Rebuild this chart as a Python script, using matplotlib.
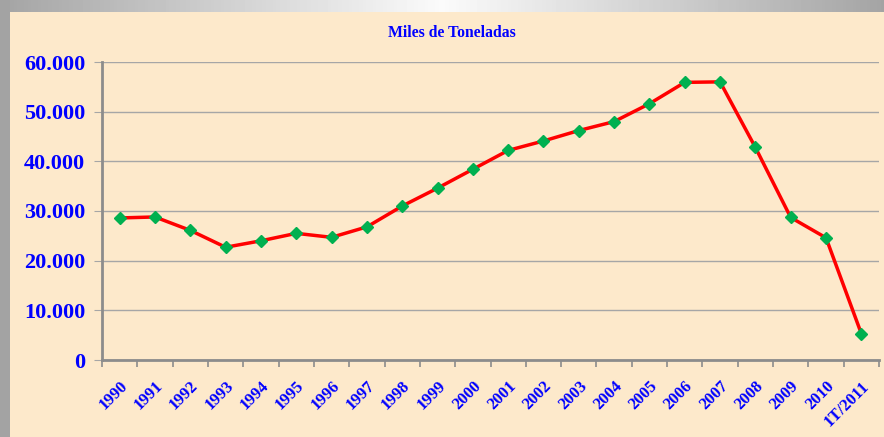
import numpy as np
import matplotlib.pyplot as plt
from matplotlib.patches import Rectangle

years = ['1990', '1991', '1992', '1993', '1994', '1995', '1996', '1997', '1998', '1999',
         '2000', '2001', '2002', '2003', '2004', '2005', '2006', '2007', '2008', '2009',
         '2010', '1T/2011']
toneladas = [28600, 28800, 26100, 22700, 24000, 25500, 24700, 26800, 31000, 34600,
             38400, 42200, 44100, 46200, 48000, 51600, 55900, 56000, 42800, 28700,
             24600, 5300]
yticks = [0, 10000, 20000, 30000, 40000, 50000, 60000]

W, H = 884, 437
fig = plt.figure(figsize=(W / 100, H / 100), dpi=100)
fig.patch.set_facecolor('#FDE9CB')

# grey frame: left strip and top gradient strip
bg = fig.add_axes([0, 0, 1, 1], zorder=-1)
bg.axis('off')
bg.add_patch(Rectangle((0, 0), 10, H, color='#A3A3A3', lw=0))
grad = 1 - np.abs(np.linspace(-1, 1, 256))
bg.imshow(grad[None, :], cmap='gray', vmin=-1.9, vmax=1.05, extent=(0, W, 12, 0),
          aspect='auto')
bg.set_xlim(0, W)
bg.set_ylim(H, 0)

ax = fig.add_axes([102 / W, 1 - 360 / H, (879 - 102) / W, (360 - 62) / H])
ax.set_facecolor('#FDE9CB')
x = np.arange(len(years))
ax.plot(x, toneladas, color='#FF0000', lw=2.5, marker='D', ms=6.5,
        mfc='#00B050', mec='#00B050', zorder=3)

ax.set_xlim(-0.5, len(years) - 0.5)
ax.set_ylim(0, 60000)
ax.set_yticks(yticks)
ax.set_yticklabels([f'{v:,}'.replace(',', '.') for v in yticks])
ax.yaxis.grid(True, color='#A6A6A6', lw=1)
ax.set_axisbelow(True)

ax.set_xticks(np.arange(len(years) + 1) - 0.5)
ax.set_xticklabels([])
ax.set_xticks(x, minor=True)
ax.set_xticklabels(years, minor=True, rotation=45, ha='right', va='top',
                   rotation_mode='anchor', fontfamily='Liberation Serif',
                   fontweight='bold', fontsize=12, color='#0000FF')
ax.tick_params(axis='x', which='minor', length=0, pad=13)
ax.tick_params(axis='x', which='major', length=5, color='#8C8C8C', width=1.2)
ax.tick_params(axis='y', length=6, color='#A6A6A6', pad=6)
for lbl in ax.get_yticklabels():
    lbl.set_fontfamily('Liberation Serif')
    lbl.set_fontweight('bold')
    lbl.set_fontsize(16)
    lbl.set_color('#0000FF')

for s in ['top', 'right']:
    ax.spines[s].set_visible(False)
ax.spines['left'].set_color('#8C8C8C')
ax.spines['left'].set_linewidth(2)
ax.spines['bottom'].set_color('#8C8C8C')
ax.spines['bottom'].set_linewidth(2)

fig.text(452 / W, 1 - 33 / H, 'Miles de Toneladas', ha='center', va='center',
         fontfamily='Liberation Serif', fontweight='bold', fontsize=11.3, color='#0000FF')

fig.savefig('out.png', dpi=100, facecolor=fig.get_facecolor())
